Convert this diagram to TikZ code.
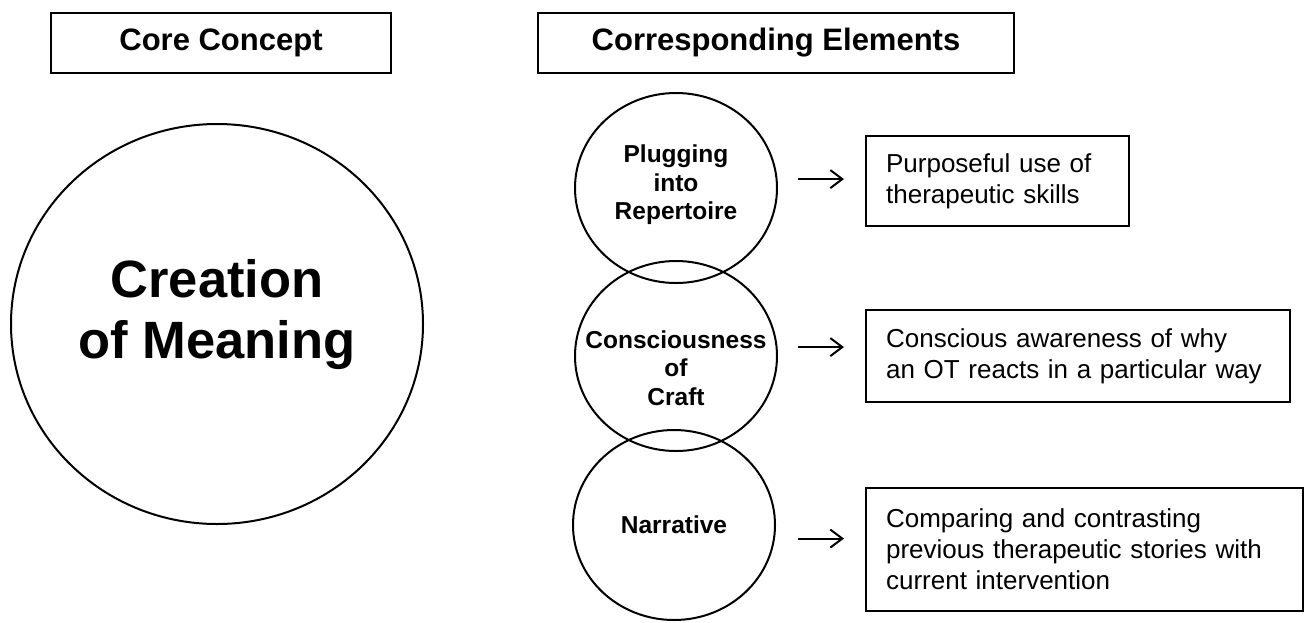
\documentclass[tikz,border=0pt]{standalone}
\usepackage{fontspec}
\setmainfont{Liberation Sans}
\usetikzlibrary{arrows.meta}
\usetikzlibrary{shapes.geometric}
\usetikzlibrary{positioning}

\begin{document}
\begin{tikzpicture}[x=1pt,y=-1pt,
    head/.style={draw,line width=2.2pt,minimum height=60pt,inner sep=0pt,font=\fontsize{31}{36}\selectfont\bfseries},
    elem/.style={ellipse,draw,line width=2pt,minimum width=202pt,minimum height=190pt,inner sep=0pt},
    lab/.style={align=center,font=\fontsize{24.5}{28.5}\selectfont\bfseries},
    desc/.style={draw,line width=2.2pt,anchor=north west,inner xsep=20pt,inner ysep=0pt,align=left,font=\fontsize{26}{31}\selectfont},
    >={Straight Barb[length=12pt,width=18pt]}]
  \useasboundingbox (0,0) rectangle (1304,622);

  \node[head,minimum width=340pt] (core) at (221,43) {Core Concept};
  \node[head,minimum width=476pt] (corr) at (776,43) {Corresponding Elements};

  \node[ellipse,draw,line width=2pt,minimum width=412pt,minimum height=400pt,inner sep=0pt,
    label={[align=center,font=\fontsize{52.5}{61}\selectfont\bfseries,yshift=9pt]center:Creation\\of Meaning}] (meaning) at (217,324) {};

  \node[elem,label={[lab,yshift=3pt]center:Plugging\\into\\Repertoire}] (plug) at (676,188) {};
  \node[elem,label={[lab,yshift=-12pt]center:Consciousness\\of\\Craft}] (craft) at (676,356) {};
  \node[elem,label={[lab]center:Narrative}] (narr) at (674,525) {};

  \node[desc,text width=223pt,minimum height=90pt] (skills) at (865,135) {Purposeful use of\\therapeutic skills};
  \node[desc,text width=384pt,minimum height=92pt] (aware) at (865,309) {Conscious awareness of why\\an OT reacts in a particular way};
  \node[desc,text width=397pt,minimum height=123pt] (stories) at (865,487) {Comparing and contrasting\\previous therapeutic stories with\\current intervention};

  \draw[->,line width=2pt] ([xshift=20pt,yshift=2pt]plug.east |- skills.west) -- ([xshift=-21pt,yshift=2pt]skills.west);
  \draw[->,line width=2pt] ([xshift=20pt,yshift=9pt]craft.east |- aware.west) -- ([xshift=-21pt,yshift=9pt]aware.west);
  \draw[->,line width=2pt] ([xshift=22pt,yshift=11pt]narr.east |- stories.west) -- ([xshift=-21pt,yshift=11pt]stories.west);

\end{tikzpicture}
\end{document}
